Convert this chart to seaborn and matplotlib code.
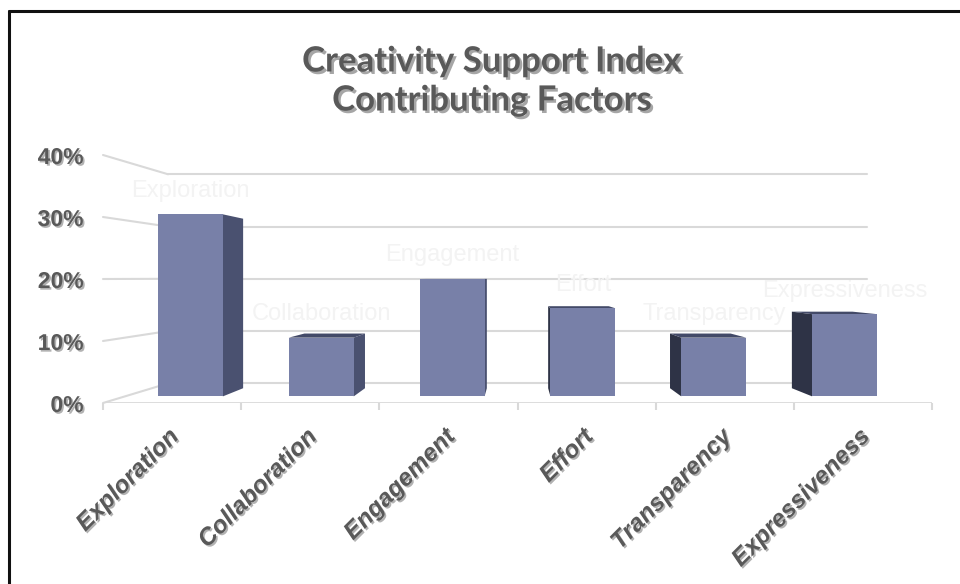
import matplotlib
matplotlib.use("Agg")
import numpy as np
import matplotlib.pyplot as plt
import matplotlib.patheffects as pe
import matplotlib.transforms as mtransforms
from matplotlib.patches import Polygon
from matplotlib.lines import Line2D
import seaborn as sns

# datos
categories = ["Exploration", "Collaboration", "Engagement", "Effort", "Transparency", "Expressiveness"]
values = [31, 10, 20, 15, 10, 14]
y_ticks = [0, 10, 20, 30, 40]
y_tick_labels = ["0%", "10%", "20%", "30%", "40%"]
title = "Creativity Support Index\nContributing Factors"

# colores
FACE = "#7880a8"
SIDE_R = "#4a5170"
SIDE_L = "#2e3346"
TOP = "#434a68"
GRID = "#d9d9d9"
TEXT = "#595959"

# perspectiva tipo Excel 3D (punto de fuga en coords de datos)
VX, VY = 2.5, 20.2
S_WALL = 0.843
S_FRONT = 0.947
S_BACK = 0.882


def proj(x, y, s):
    return VX + s * (x - VX), VY + s * (y - VY)


sns.set_style("white")
fig = plt.figure(figsize=(9.6, 5.84), dpi=100)
ax = fig.add_axes([103 / 960, 1 - 403 / 584, 829 / 960, 248 / 584])

sns.barplot(x=categories, y=values, width=0.497, color=FACE, saturation=1,
            ax=ax, zorder=3, linewidth=0)
ax.set_xlim(-0.5, 5.5)
ax.set_ylim(0, 40)

# lineas de la pared del fondo y pared izquierda
for v in y_ticks:
    x0, y0 = proj(-0.5, v, S_WALL)
    x1, _ = proj(5.5, v, S_WALL)
    ax.plot([x0, x1], [y0, y0], color=GRID, lw=1.5, zorder=1, clip_on=False)
    ax.plot([-0.5, x0], [v, y0], color=GRID, lw=1.5, zorder=1, clip_on=False)

# eje frontal con marcas
ax.axhline(0, color=GRID, lw=2, zorder=1)
ax.vlines(np.arange(-0.5, len(categories), 1), 0, -1.2, color=GRID, lw=1.5,
          clip_on=False, zorder=1)

# barras en 3D
bars = list(ax.patches)
for p, cat in zip(bars, categories):
    x, w, h = p.get_x(), p.get_width(), p.get_height()
    p.set_xy(proj(x, 0, S_FRONT))
    p.set_width(w * S_FRONT)
    p.set_height(h * S_FRONT)
    c = x + w / 2
    if c < VX:
        ex, col = x + w, SIDE_R
    else:
        ex, col = x, SIDE_L
    side = [proj(ex, 0, S_FRONT), proj(ex, h, S_FRONT), proj(ex, h, S_BACK), proj(ex, 0, S_BACK)]
    ax.add_patch(Polygon(side, closed=True, facecolor=col, edgecolor="none", zorder=2))
    if h < VY:
        top = [proj(x, h, S_FRONT), proj(x + w, h, S_FRONT), proj(x + w, h, S_BACK), proj(x, h, S_BACK)]
        ax.add_patch(Polygon(top, closed=True, facecolor=TOP, edgecolor="none", zorder=2))
    # etiqueta casi invisible sobre la barra
    tx, ty = proj(c, h, S_FRONT)
    ax.annotate(cat, (tx, ty), xytext=(0, 17), textcoords="offset points",
                ha="center", va="center", fontsize=17, color="#f3f3f3",
                family="Liberation Sans", zorder=4)

shadow = [pe.withSimplePatchShadow(offset=(1.2, -1.2), shadow_rgbFace="k", alpha=0.3)]

ax.set_yticks(y_ticks, y_tick_labels)
ax.set_xticks(range(len(categories)), categories, rotation=45, ha="right",
              rotation_mode="anchor")
ax.tick_params(axis="both", length=0)
ax.tick_params(axis="y", pad=14)
for lab in ax.get_yticklabels():
    lab.set_fontsize(16.5)
    lab.set_fontweight("bold")
    lab.set_family("Liberation Sans")
    lab.set_color(TEXT)
    lab.set_path_effects(shadow)
off = mtransforms.ScaledTranslation(-5 / 100, -17 / 100, fig.dpi_scale_trans)
for lab in ax.get_xticklabels():
    lab.set_fontsize(17.5)
    lab.set_fontweight("bold")
    lab.set_fontstyle("italic")
    lab.set_family("Liberation Sans")
    lab.set_color(TEXT)
    lab.set_path_effects(shadow)
    lab.set_transform(lab.get_transform() + off)

ax.set_xlabel("")
ax.set_ylabel("")
for sp in ax.spines.values():
    sp.set_visible(False)

fig.text(492 / 960, 1 - 81 / 584, title, ha="center", va="center", fontsize=25,
         fontweight="bold", family="Lato", color=TEXT, linespacing=1.27,
         path_effects=[pe.withSimplePatchShadow(offset=(1.8, -1.8), shadow_rgbFace="k", alpha=0.35)])

# marco de la captura
fig.add_artist(Line2D([8.5 / 960, 8.5 / 960], [0, 1 - 10.5 / 584], color="#111111", lw=2.2))
fig.add_artist(Line2D([8.5 / 960, 1], [1 - 10.5 / 584, 1 - 10.5 / 584], color="#111111", lw=2.2))

fig.savefig("out.png", dpi=100)
